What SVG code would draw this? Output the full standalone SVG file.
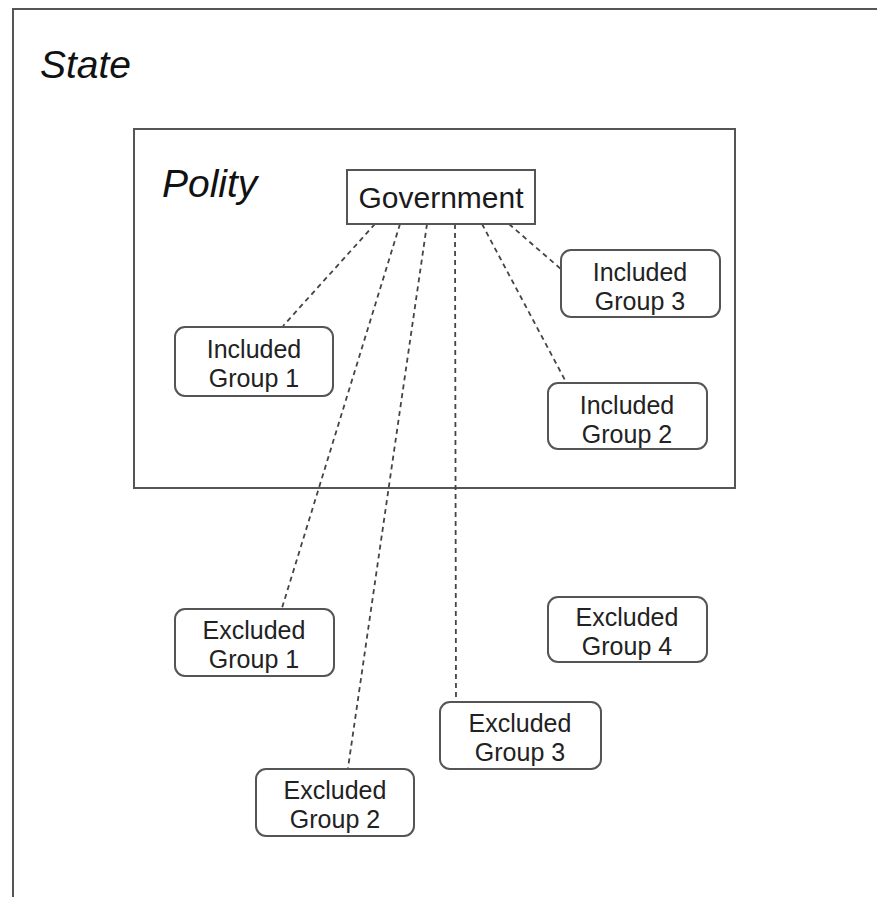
<svg xmlns="http://www.w3.org/2000/svg" width="877" height="897" viewBox="0 0 877 897">
<style>
.frame{fill:none;stroke:#555;stroke-width:2}
.node{fill:#fff;stroke:#555;stroke-width:2}
.lbl{font-family:"Liberation Sans",Arial,sans-serif;font-size:25px;fill:#222;text-anchor:middle}
.gov{font-family:"Liberation Sans",Arial,sans-serif;font-size:30px;fill:#1a1a1a;text-anchor:middle}
.title{font-family:"Liberation Sans",Arial,sans-serif;font-size:39px;font-style:italic;fill:#111}
.conn{stroke:#444;stroke-width:1.8;stroke-dasharray:5,4;fill:none}
</style>
<rect width="877" height="897" fill="#fff"/>
<g id="state">
<path class="frame" d="M13,897 V9 H877" stroke-width="3"/>
<text class="title" x="40" y="78">State</text>
</g>
<g id="polity">
<rect class="frame" x="134" y="129" width="601" height="359"/>
<text class="title" x="162" y="197">Polity</text>
</g>
<g id="connectors">
<line class="conn" x1="375" y1="224" x2="283" y2="326"/>
<line class="conn" x1="400" y1="224" x2="282" y2="608"/>
<line class="conn" x1="427" y1="224" x2="348" y2="768"/>
<line class="conn" x1="455" y1="224" x2="456" y2="701"/>
<line class="conn" x1="482" y1="224" x2="566" y2="382"/>
<line class="conn" x1="509" y1="224" x2="562" y2="270"/>
</g>
<g id="government">
<rect class="node" x="347" y="170" width="188" height="54"/>
<text class="gov" x="441" y="208">Government</text>
</g>
<g id="included1">
<rect class="node" x="175" y="327" width="158" height="69" rx="10"/>
<text class="lbl" x="254" y="358">Included</text>
<text class="lbl" x="254" y="387">Group 1</text>
</g>
<g id="included3">
<rect class="node" x="561" y="250" width="159" height="67" rx="10"/>
<text class="lbl" x="640" y="281">Included</text>
<text class="lbl" x="640" y="310">Group 3</text>
</g>
<g id="included2">
<rect class="node" x="548" y="383" width="159" height="66" rx="10"/>
<text class="lbl" x="627" y="414">Included</text>
<text class="lbl" x="627" y="443">Group 2</text>
</g>
<g id="excluded1">
<rect class="node" x="175" y="609" width="159" height="67" rx="10"/>
<text class="lbl" x="254" y="639">Excluded</text>
<text class="lbl" x="254" y="668">Group 1</text>
</g>
<g id="excluded4">
<rect class="node" x="548" y="597" width="159" height="65" rx="10"/>
<text class="lbl" x="627" y="626">Excluded</text>
<text class="lbl" x="627" y="655">Group 4</text>
</g>
<g id="excluded3">
<rect class="node" x="440" y="702" width="161" height="67" rx="10"/>
<text class="lbl" x="520" y="732">Excluded</text>
<text class="lbl" x="520" y="761">Group 3</text>
</g>
<g id="excluded2">
<rect class="node" x="256" y="769" width="158" height="67" rx="10"/>
<text class="lbl" x="335" y="799">Excluded</text>
<text class="lbl" x="335" y="828">Group 2</text>
</g>
</svg>
